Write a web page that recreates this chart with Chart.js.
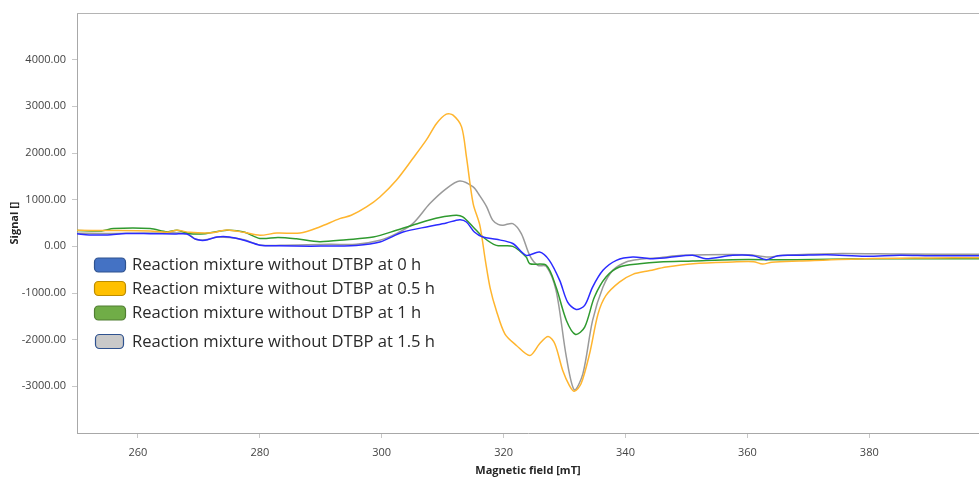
<!DOCTYPE html>
<html>
<head>
<meta charset="utf-8">
<script src="https://cdn.jsdelivr.net/npm/chart.js@4.4.1/dist/chart.umd.min.js"></script>
<style>
  html, body { margin: 0; padding: 0; background: #ffffff; }
  #wrap { width: 979px; height: 477px; position: relative; }
</style>
</head>
<body>
<div id="wrap"><canvas id="c" width="979" height="477"></canvas></div>
<script>
// ---- Data (Magnetic field [mT], Signal []) ----
const seriesLabels = [
  'Reaction mixture without DTBP at 0 h',
  'Reaction mixture without DTBP at 0.5 h',
  'Reaction mixture without DTBP at 1 h',
  'Reaction mixture without DTBP at 1.5 h'
];

const field0h = [250,252,255,258,262,266,268,269.5,271,273,275,277.4,280,283,290,295.8,299.7,303.5,307.9,310.6,312.8,313.9,315.2,316.6,318.8,321.5,323.7,325.9,327.5,329.2,330.5,331.9,333.3,334.6,336.3,338.5,341.2,344,347,351,353.2,357.6,361,363.1,365,368.5,373,379.4,385,390,398];
const signal0h = [270,245,245,275,272,265,265,150,130,200,200,130,25,10,5,20,93,308,429,501,572,522,308,200,150,60,-193,-122,-300,-730,-1195,-1352,-1266,-873,-515,-300,-229,-265,-240,-193,-265,-193,-200,-286,-200,-193,-180,-215,-190,-200,-200];

const field05h = [250,255,262,264.8,266.4,268.5,272,274.6,277.4,280,282.8,286.6,289.8,293.1,295,297.5,299.7,302.4,305.1,307.3,309,310.6,311.7,313.1,313.9,315,316.1,317,317.8,318.8,320.2,322.1,324.3,325.9,327.3,328.4,329.7,330.8,331.6,332.7,334.1,335.5,336.8,339,341.2,344,346.7,351.1,357.6,361,362.5,364,368.5,379.4,390,398];
const signal05h = [343,340,330,300,343,300,290,350,300,236,285,285,415,594,665,844,1058,1416,1882,2275,2633,2833,2811,2560,1916,916,450,-300,-900,-1373,-1874,-2124,-2339,-2088,-1931,-2088,-2661,-2983,-3105,-2946,-2303,-1445,-1052,-766,-600,-520,-444,-372,-336,-330,-380,-340,-315,-265,-250,-243];

const field1h = [250,254,256,262,264.8,266.4,268.5,271,274.6,277.4,280,283,286,289.8,294.2,298.6,302.4,306.2,309.5,312.2,313.3,315,316.6,318.8,321.5,323.7,324.3,327,328.6,330.3,331.8,333.3,334.9,336.8,339,342.3,345.6,351,357.6,368,379.4,398];
const signal1h = [340,330,380,380,310,343,272,272,343,307,170,190,160,100,143,200,343,501,616,665,630,415,200,21,0,-229,-372,-408,-873,-1588,-1888,-1731,-1087,-658,-443,-372,-336,-315,-286,-286,-265,-265];

const field15h = [250,255,262,268,269.5,271,273,275,277.4,280,283.3,291.5,295.8,299.7,302.4,305.1,307.9,310.6,312.8,315,316.1,317.2,318.2,319.1,319.9,321.5,322.9,324.3,325.6,327,328.6,330.3,331.6,333,334.6,336.3,337.9,340.1,342.3,345.6,349.3,360.3,363.1,365.8,373.9,385,398];
const signal15h = [280,275,285,275,150,140,200,190,140,30,21,43,43,129,272,487,916,1238,1401,1273,1080,850,560,470,451,487,272,-200,-408,-429,-944,-2375,-3076,-2732,-1588,-873,-515,-336,-279,-243,-193,-179,-229,-193,-157,-165,-172];

const xTickValues = [260,280,300,320,340,360,380];
const yTickValues = [-3000,-2000,-1000,0,1000,2000,3000,4000];

// ---- Build ----
function pts(xs, ys) { return xs.map((x, i) => ({ x: x, y: ys[i] })); }

const lineColors = ['#2b2bff', '#ffb52e', '#2f9a2f', '#9a9a9a'];
const legendFill = ['#4472C4', '#FFC000', '#70AD47', '#C9C9C9'];
const legendStroke = ['#2F528F', '#BC8C00', '#507E32', '#2F528F'];
const legendRowY = [251.5, 275, 299.5, 328];
const legendBoxW = [31, 31, 31, 28];
const legendBoxX = [17, 17, 17, 18];

const fields = [field0h, field05h, field1h, field15h];
const signals = [signal0h, signal05h, signal1h, signal15h];

const datasets = seriesLabels.map((lab, i) => ({
  label: lab,
  data: pts(fields[i], signals[i]),
  borderColor: lineColors[i],
  backgroundColor: lineColors[i],
  borderWidth: 1.5,
  pointRadius: 0,
  tension: 0.3,
  fill: false
}));

const overlayPlugin = {
  id: 'overlay',
  afterDatasetsDraw(chart) {
    const ctx = chart.ctx;
    const a = chart.chartArea;
    ctx.save();
    ctx.strokeStyle = '#b4b4b4';
    ctx.lineWidth = 1;
    ctx.beginPath();
    ctx.moveTo(a.left, a.top + 0.5);
    ctx.lineTo(a.right, a.top + 0.5);
    ctx.stroke();

    ctx.font = '16.6px "Open Sans", sans-serif';
    ctx.textBaseline = 'middle';
    ctx.textAlign = 'left';
    seriesLabels.forEach((lab, i) => {
      const cy = a.top + legendRowY[i];
      const bx = a.left + legendBoxX[i];
      const bw = legendBoxW[i], bh = 14;
      ctx.beginPath();
      ctx.roundRect(bx + 0.5, cy - bh / 2 + 0.5, bw, bh, 4);
      ctx.fillStyle = legendFill[i];
      ctx.fill();
      ctx.strokeStyle = legendStroke[i];
      ctx.lineWidth = 1.2;
      ctx.stroke();
      ctx.fillStyle = '#2a2a2a';
      ctx.fillText(lab, a.left + 55, cy + 1);
    });
    ctx.restore();
  }
};

new Chart(document.getElementById('c'), {
  type: 'line',
  data: { datasets: datasets },
  plugins: [overlayPlugin],
  options: {
    responsive: false,
    animation: false,
    layout: { padding: { top: 13, right: 0, left: 0, bottom: 0 } },
    plugins: { legend: { display: false }, tooltip: { enabled: false } },
    scales: {
      x: {
        type: 'linear',
        min: 250,
        max: 398,
        afterBuildTicks: (s) => { s.ticks = xTickValues.map(v => ({ value: v })); },
        afterFit: (s) => { s.height = 44; },
        ticks: {
          color: '#444444',
          font: { family: '"Open Sans", sans-serif', size: 11 },
          padding: 8,
          maxRotation: 0,
          callback: (v) => String(v)
        },
        grid: { drawOnChartArea: false, drawTicks: true, tickLength: 5, color: '#c8c8c8' },
        border: { display: true, color: '#a8a8a8' },
        title: {
          display: true,
          text: 'Magnetic field [mT]',
          color: '#262626',
          font: { family: '"Open Sans", sans-serif', size: 11, weight: 'bold' },
          padding: { top: 0, bottom: 0 }
        }
      },
      y: {
        type: 'linear',
        min: -4000,
        max: 5000,
        afterBuildTicks: (s) => { s.ticks = yTickValues.map(v => ({ value: v })); },
        afterFit: (s) => { s.width = 77; },
        ticks: {
          color: '#444444',
          font: { family: '"Open Sans", sans-serif', size: 11 },
          padding: 6,
          callback: (v) => Number(v).toFixed(2)
        },
        grid: { drawOnChartArea: false, drawTicks: true, tickLength: 5, color: '#c8c8c8' },
        border: { display: true, color: '#a8a8a8' },
        title: {
          display: true,
          text: 'Signal []',
          color: '#262626',
          font: { family: '"Open Sans", sans-serif', size: 11, weight: 'bold' },
          padding: { top: 8, bottom: 0 }
        }
      }
    }
  }
});
</script>
</body>
</html>
